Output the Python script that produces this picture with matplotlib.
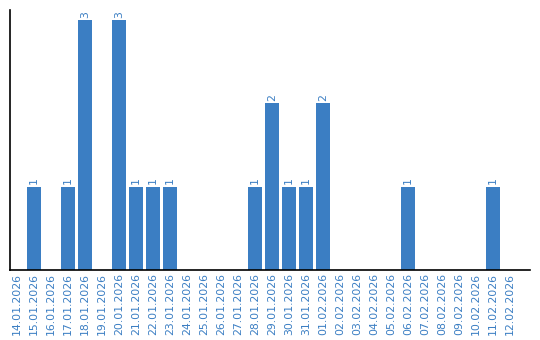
import matplotlib

matplotlib.use("Agg")
import matplotlib.pyplot as plt

dates = [
    "14.01.2026", "15.01.2026", "16.01.2026", "17.01.2026", "18.01.2026",
    "19.01.2026", "20.01.2026", "21.01.2026", "22.01.2026", "23.01.2026",
    "24.01.2026", "25.01.2026", "26.01.2026", "27.01.2026", "28.01.2026",
    "29.01.2026", "30.01.2026", "31.01.2026", "01.02.2026", "02.02.2026",
    "03.02.2026", "04.02.2026", "05.02.2026", "06.02.2026", "07.02.2026",
    "08.02.2026", "09.02.2026", "10.02.2026", "11.02.2026", "12.02.2026",
]
counts = [0, 1, 0, 1, 3, 0, 3, 1, 1, 1, 0, 0, 0, 0, 1,
          2, 1, 1, 2, 0, 0, 0, 0, 1, 0, 0, 0, 0, 1, 0]

BLUE = "#3b7ec3"

fig = plt.figure(figsize=(5.4, 3.4), dpi=100)
ax = fig.add_axes([10 / 540, 70 / 340, 520 / 540, 260 / 340])
x = list(range(len(dates)))
ax.bar(x, counts, width=0.82, color=BLUE)
for xi, v in zip(x, counts):
    if v > 0:
        ax.text(xi, v + 0.03, str(v), rotation=90, ha="center", va="bottom",
                fontsize=7.8, color=BLUE)
ax.set_xlim(-0.41, 30.18)
ax.set_ylim(0, 3.12)
ax.set_xticks(x)
ax.set_xticklabels(dates, rotation=90, fontsize=7.8, color=BLUE)
ax.tick_params(axis="x", length=0, pad=2)
ax.set_yticks([])
for side in ["top", "right"]:
    ax.spines[side].set_visible(False)
ax.spines["left"].set_linewidth(1.2)
ax.spines["bottom"].set_linewidth(1.2)
fig.savefig("out.png", dpi=100)
